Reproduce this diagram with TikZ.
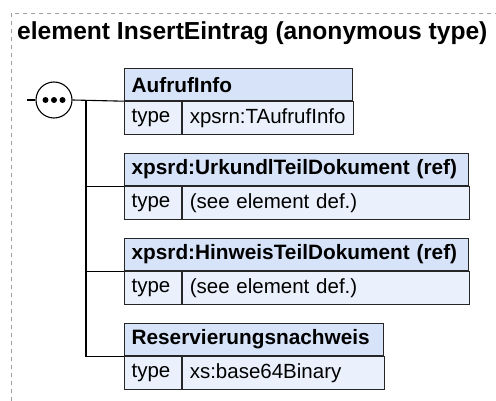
\documentclass[tikz,border=0pt]{standalone}
\usepackage{fontspec}
\setmainfont{Liberation Sans}
\usetikzlibrary{positioning}
\definecolor{hdrblue}{RGB}{214,227,248}
\definecolor{rowblue}{RGB}{234,241,252}
\definecolor{frmgray}{RGB}{160,160,160}

\begin{document}
\begin{tikzpicture}[x=1pt,y=-1pt,
  hdr/.style={draw=black!85, fill=hdrblue, line width=1.2pt, anchor=north west,
    minimum height=32pt, inner xsep=7pt, inner ysep=0pt, align=left, text width=#1,
    font=\fontsize{20.8}{24}\selectfont\bfseries},
  cell/.style={draw=black!85, fill=rowblue, line width=1.2pt, anchor=north west,
    minimum height=33pt, inner xsep=7pt, inner ysep=0pt, align=left, text width=#1,
    font=\fontsize{20.5}{24}\selectfont},
  conn/.style={line width=1.1pt}]
  \useasboundingbox (0,0) rectangle (496,401);
  \draw[frmgray, line width=0.8pt, dash pattern=on 4pt off 4pt] (11,401) -- (11,13) -- (496,13);
  \node[anchor=base west, inner sep=0pt, font=\fontsize{24.6}{28}\selectfont\bfseries] (title) at (17,40) {element InsertEintrag (anonymous type)};

  % sequence compositor
  \coordinate (stub) at (27,100);
  \coordinate (trunk) at (86,100);
  \node[circle, draw, conn, fill=white, minimum size=36pt, inner sep=0pt] (seq) at (54,100) {};
  \foreach \dx in {-8.5,0,8.5}
    \fill ([xshift=\dx pt]seq.center) circle (3pt);

  % child elements
  \node[hdr=214pt] (aufH) at (124,68) {AufrufInfo};
  \node[cell=43pt] (aufT) at (aufH.south west) {type};
  \node[cell=157pt] (aufV) at (aufT.north east) {xpsrn:TAufrufInfo};

  \node[hdr=330pt] (urkH) at (124,153) {xpsrd:UrkundlTeilDokument (ref)};
  \node[cell=43pt] (urkT) at (urkH.south west) {type};
  \node[cell=273pt] (urkV) at (urkT.north east) {(see element def.)};

  \node[hdr=330pt] (hinH) at (124,238) {xpsrd:HinweisTeilDokument (ref)};
  \node[cell=43pt] (hinT) at (hinH.south west) {type};
  \node[cell=273pt] (hinV) at (hinT.north east) {(see element def.)};

  \node[hdr=245pt] (resH) at (124,323) {Reservierungsnachweis};
  \node[cell=43pt] (resT) at (resH.south west) {type};
  \node[cell=188pt] (resV) at (resT.north east) {xs:base64Binary};

  \draw[conn] (stub) -- (seq.west);
  \draw[conn] (seq.east) -- (aufH.south west);
  \foreach \b in {urk,hin,res}
    \draw[conn] (trunk) |- (\b H.south west);
\end{tikzpicture}
\end{document}
